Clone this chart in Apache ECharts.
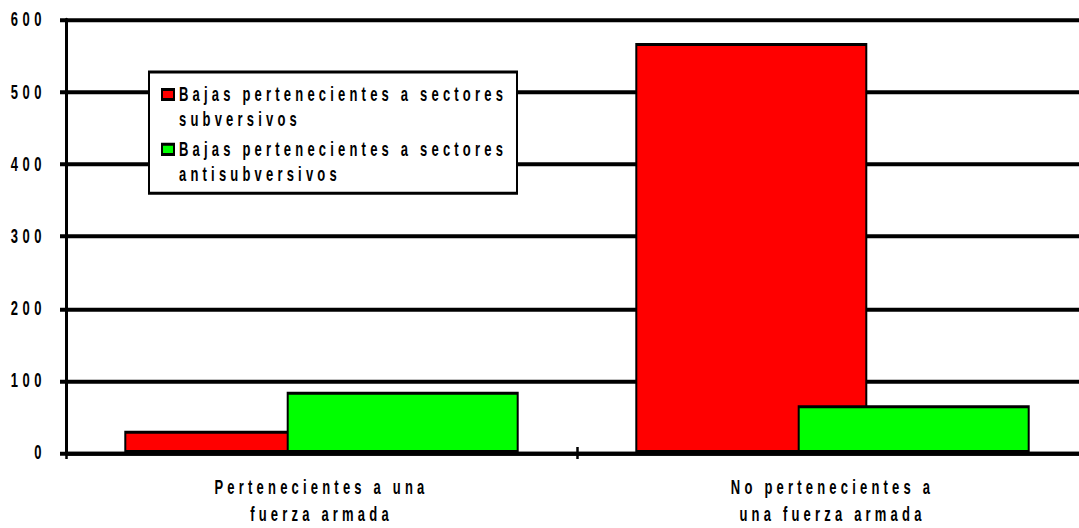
<!DOCTYPE html>
<html>
<head>
<meta charset="utf-8">
<script src="https://cdn.jsdelivr.net/npm/echarts@6/dist/echarts.min.js"></script>
<style>
  html, body { margin: 0; padding: 0; background: #fff; overflow: hidden; }
  #wrap { width: 1079px; height: 528px; overflow: hidden; position: relative; }
  #chart { width: 1100px; height: 352px; transform: scaleY(1.5); transform-origin: 0 0; }
</style>
</head>
<body>
<div id="wrap"><div id="chart"></div></div>
<script>
// ---- data ----
const categories = ['Pertenecientes a una\nfuerza armada', 'No pertenecientes a\nuna fuerza armada'];
const seriesNames = ['Bajas pertenecientes a sectores\nsubversivos', 'Bajas pertenecientes a sectores\nantisubversivos'];
const subversivos = [31, 568];
const antisubversivos = [85, 66];
const yMin = 0, yMax = 600, yStep = 100;
const colors = ['#ff0000', '#00ff00'];

const FONT = "'Liberation Sans', Arial, sans-serif";
const chart = echarts.init(document.getElementById('chart'), null, { renderer: 'svg' });

const option = {
  animation: false,
  backgroundColor: '#ffffff',
  grid: { left: 66, top: 13.33, width: 1022, height: 289.13, containLabel: false },
  legend: {
    orient: 'vertical',
    left: 149, top: 48,
    backgroundColor: '#ffffff',
    borderColor: '#000000',
    borderWidth: 2,
    padding: [5.85, 140, 3.45, 12],
    itemGap: 1.6,
    itemWidth: 12,
    itemHeight: 33,
    icon: 'path://M0,4.8L12,4.8L12,11.5L0,11.5Z M0,0 M12,33',
    selectedMode: false,
    textStyle: { fontFamily: FONT, fontSize: 13, fontWeight: 'bold', color: '#000', lineHeight: 16.7 },
    data: seriesNames
  },
  xAxis: [{
    type: 'category',
    data: categories,
    position: 'bottom',
    axisLine: { show: true, lineStyle: { color: '#000', width: 2.67 } },
    axisTick: { show: true, inside: false, length: 4, lineStyle: { color: '#000', width: 2.5 } },
    axisLabel: { interval: 0, margin: 14, fontFamily: FONT, fontSize: 13, fontWeight: 'bold', color: '#000', lineHeight: 18 },
    splitLine: { show: false }
  }, {
    type: 'category',
    data: categories,
    position: 'bottom',
    axisLine: { show: false },
    axisTick: { show: true, inside: true, length: 4, lineStyle: { color: '#000', width: 2.5 } },
    axisLabel: { show: false },
    splitLine: { show: false }
  }],
  yAxis: {
    type: 'value',
    min: yMin, max: yMax, interval: yStep,
    axisLine: { show: true, lineStyle: { color: '#000', width: 3 } },
    axisTick: { show: true, length: 6, lineStyle: { color: '#000', width: 2.67 } },
    axisLabel: { margin: 20, fontFamily: FONT, fontSize: 13, fontWeight: 'bold', color: '#000' },
    splitLine: { show: true, lineStyle: { color: '#000', width: 2.67 } }
  },
  series: [{
    name: seriesNames[0], type: 'bar', data: subversivos,
    barWidth: 232, barGap: '-30%',
    itemStyle: { color: colors[0], borderColor: '#000', borderWidth: 2 },
    emphasis: { disabled: true }
  }, {
    name: seriesNames[1], type: 'bar', data: antisubversivos,
    barWidth: 232, barGap: '-30%',
    itemStyle: { color: colors[1], borderColor: '#000', borderWidth: 2 },
    emphasis: { disabled: true }
  }]
};
chart.setOption(option);

const legendLines = [];
seriesNames.forEach(n => n.split('\n').forEach(l => legendLines.push(l)));
function spaceText() {
  document.querySelectorAll('#chart svg text').forEach(t => {
    const s = t.textContent.trim();
    let ls;
    if (/^\d+$/.test(s)) ls = 4.5;
    else if (legendLines.indexOf(s) >= 0) ls = 4.2;
    else ls = 4.2;
    t.style.letterSpacing = ls + 'px';
  });
}
spaceText();
chart.on('finished', spaceText);
chart.on('rendered', spaceText);
setTimeout(spaceText, 50);
setTimeout(spaceText, 300);
</script>
</body>
</html>
